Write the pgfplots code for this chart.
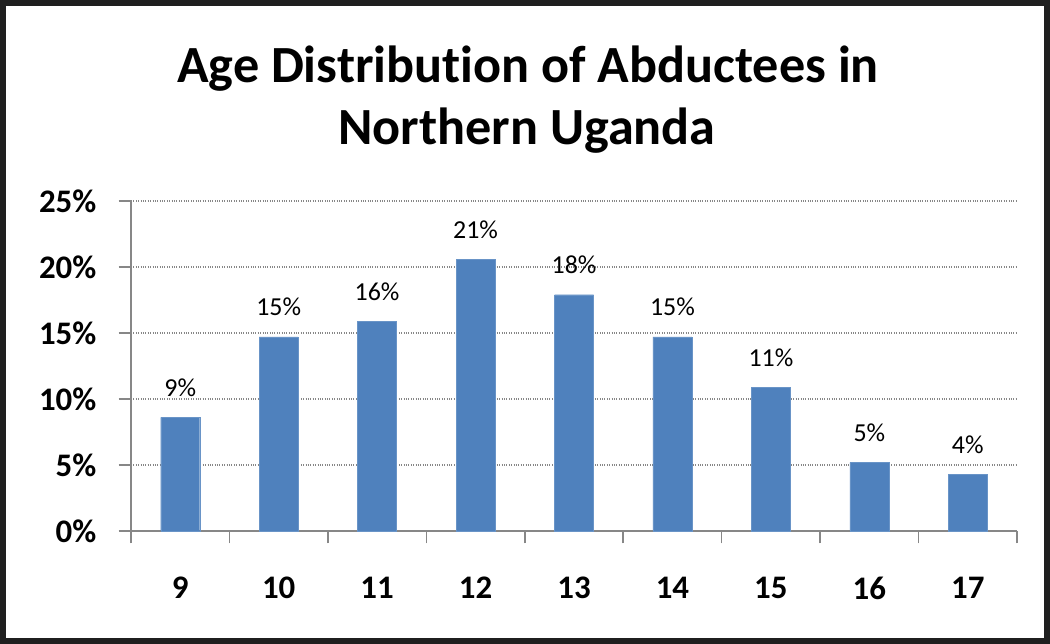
\documentclass[border=0pt]{standalone}
\usepackage{fontspec}
\setmainfont{Carlito}[Ligatures=NoCommon]
\usepackage{pgfplots}
\pgfplotsset{compat=1.18}
\definecolor{barblue}{HTML}{4F81BD}
\definecolor{axgray}{HTML}{878787}
\begin{document}
\begin{tikzpicture}[x=1bp,y=1bp]
\draw[line width=6bp, color=black!88] (3,3) rectangle (1047,641);
\node[anchor=base, inner sep=0pt, font=\fontsize{52.4}{60}\selectfont\bfseries] at (528,561) {Age Distribution of Abductees in};
\node[anchor=base, inner sep=0pt, font=\fontsize{52.4}{60}\selectfont\bfseries] at (527,499) {Northern Uganda};
\begin{axis}[
  at={(131bp,113bp)}, anchor=south west,
  scale only axis, width=886bp, height=330bp,
  xmin=-0.5, xmax=8.5, ymin=0, ymax=25,
  axis lines*=left,
  axis line style={axgray, line width=1.5bp},
  tick align=outside,
  tick style={axgray, line width=1.5bp},
  major tick length=12.5bp,
  xtick={-0.5,0.5,...,8.5},
  xticklabels={},
  extra x ticks={0,1,2,3,4,5,6,7,8},
  extra x tick labels={9,10,11,12,13,14,15,16,17},
  extra x tick style={major tick length=0pt,
     xticklabel style={anchor=north, inner sep=0pt, yshift=-46bp}},
  ytick={0,5,10,15,20,25},
  yticklabels={0\%,5\%,10\%,15\%,20\%,25\%},
  yticklabel style={anchor=east, inner sep=0pt, xshift=-22bp},
  tick label style={font=\fontsize{33}{36}\selectfont\bfseries, black},
  ymajorgrids,
  grid style={dotted, axgray, line width=1.2bp},
  ybar, bar width=39bp,
  /pgf/number format/assume math mode=true,
  nodes near coords={\pgfmathprintnumber[fixed,precision=0]{\pgfplotspointmeta}\%},
  every node near coord/.append style={anchor=base, inner sep=0pt, yshift=21bp,
     font=\fontsize{26}{30}\selectfont, black},
  clip=false,
]
\addplot[fill=barblue, draw=barblue!85!white] coordinates {
  (0,8.6) (1,14.7) (2,15.9) (3,20.6) (4,17.9) (5,14.7) (6,10.9) (7,5.2) (8,4.3)
};
\end{axis}
\end{tikzpicture}
\end{document}
